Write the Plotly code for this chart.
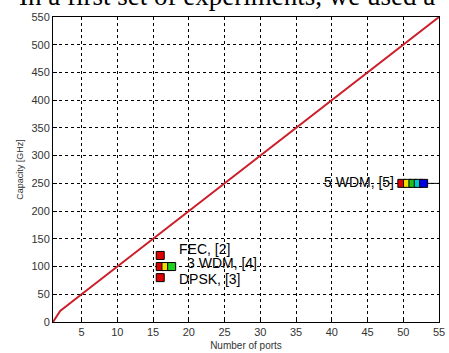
import plotly.graph_objects as go

# Data
line_x = [1, 2] + list(range(5, 56, 5))
line_y = [0, 20] + [10 * n for n in range(5, 56, 5)]

fec_x, fec_y = [16], [120]
dpsk_x, dpsk_y = [16], [80]
wdm3_x = [16, 16.8, 17.6]
wdm3_y = [100, 100, 100]
wdm3_colors = ["#e00000", "#f0e000", "#20d020"]
wdm5_x = [49.8, 50.6, 51.35, 52.1, 52.85]
wdm5_y = [250, 250, 250, 250, 250]
wdm5_colors = ["#e00000", "#f0e000", "#20c020", "#00c8c8", "#0000e0"]

labels = [
    ("FEC, [2]", 18.3, 132),
    ("3 WDM, [4]", 19.5, 106),
    ("DPSK, [3]", 18.3, 77),
    ("5 WDM, [5]", 38.7, 253),
]

fig = go.Figure()
fig.add_trace(go.Scatter(x=line_x, y=line_y, mode="lines",
                         line=dict(color="#cc1f2a", width=2), hoverinfo="skip"))
fig.add_trace(go.Scatter(x=[wdm5_x[-1], 55], y=[250, 250], mode="lines",
                         line=dict(color="black", width=1)))
sq = dict(symbol="square", size=8, line=dict(color="black", width=1))
fig.add_trace(go.Scatter(x=fec_x, y=fec_y, mode="markers", marker=dict(color="#e00000", **sq)))
fig.add_trace(go.Scatter(x=dpsk_x, y=dpsk_y, mode="markers", marker=dict(color="#e00000", **sq)))
fig.add_trace(go.Scatter(x=wdm3_x, y=wdm3_y, mode="markers", marker=dict(color=wdm3_colors, **sq)))
fig.add_trace(go.Scatter(x=wdm5_x, y=wdm5_y, mode="markers", marker=dict(color=wdm5_colors, **sq)))

for t, x, y in labels:
    fig.add_annotation(x=x, y=y, text=t, showarrow=False, xanchor="left",
                       font=dict(family="Liberation Sans, Arial", size=14, color="black"))

fig.add_annotation(xref="paper", yref="paper", x=0, y=1.0, xshift=-36, yshift=4,
                   xanchor="left", yanchor="bottom",
                   text="In a first set of experiments, we used a", showarrow=False,
                   font=dict(family="Liberation Serif, Times New Roman", size=27, color="black"))

axis_common = dict(showline=True, linecolor="black", linewidth=1, mirror=True,
                   showgrid=True, gridcolor="black", gridwidth=1, griddash="3px,3px",
                   ticks="inside", ticklen=4, tickcolor="black", zeroline=False,
                   ticklabeloverflow="allow",
                   tickfont=dict(family="Liberation Sans, Arial", size=11, color="#333"))

fig.update_xaxes(range=[1, 55], tickvals=list(range(5, 56, 5)), **axis_common,
                 title=dict(text="Number of ports", standoff=4,
                            font=dict(family="Liberation Sans, Arial", size=10, color="#333")))
fig.update_yaxes(range=[0, 550], tickvals=list(range(0, 551, 50)), **axis_common,
                 title=dict(text="Capacity [GHz]", standoff=6,
                            font=dict(family="Liberation Sans, Arial", size=9, color="#333")))

fig.update_layout(width=449, height=353, showlegend=False,
                  margin=dict(l=53, r=4, t=17, b=28),
                  paper_bgcolor="white", plot_bgcolor="white")
fig.write_html("out.html", config={"displayModeBar": False},
               post_script="document.body.style.margin='0';")
